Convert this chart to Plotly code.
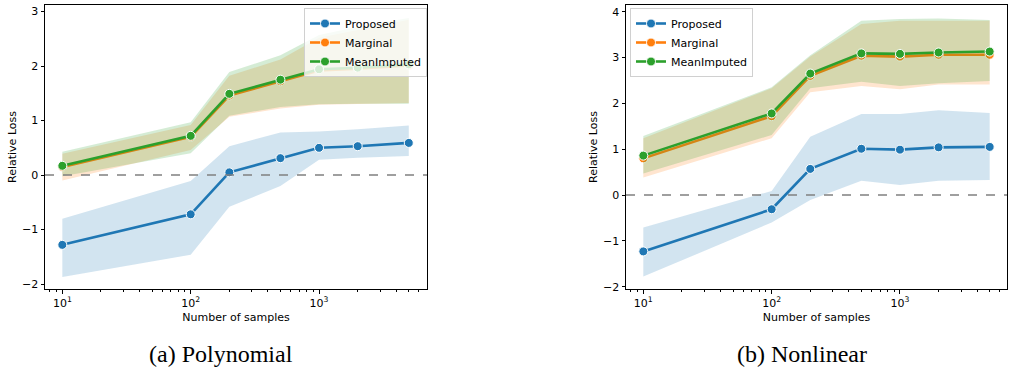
import plotly.graph_objects as go

samples = [10, 100, 200, 500, 1000, 2000, 5000]

# (a) Polynomial
poly_proposed = [-1.28, -0.72, 0.05, 0.31, 0.50, 0.53, 0.59]
poly_proposed_hi = [-0.80, -0.11, 0.53, 0.78, 0.80, 0.84, 0.91]
poly_proposed_lo = [-1.87, -1.46, -0.58, -0.20, 0.28, 0.32, 0.35]
poly_marginal = [0.15, 0.70, 1.46, 1.72, 1.92, 1.95, 2.01]
poly_marginal_hi = [0.39, 0.92, 1.82, 2.12, 2.52, 2.66, 2.85]
poly_marginal_lo = [-0.10, 0.46, 1.07, 1.22, 1.29, 1.31, 1.32]
poly_mean = [0.17, 0.72, 1.49, 1.75, 1.94, 1.97, 2.03]
poly_mean_hi = [0.43, 0.97, 1.89, 2.20, 2.57, 2.72, 2.88]
poly_mean_lo = [-0.02, 0.40, 1.09, 1.25, 1.30, 1.31, 1.31]

# (b) Nonlinear
nl_proposed = [-1.23, -0.31, 0.57, 1.01, 0.99, 1.04, 1.05]
nl_proposed_hi = [-0.71, 0.09, 1.27, 1.77, 1.77, 1.85, 1.79]
nl_proposed_lo = [-1.78, -0.60, -0.11, 0.31, 0.22, 0.31, 0.33]
nl_marginal = [0.80, 1.72, 2.60, 3.04, 3.02, 3.06, 3.06]
nl_marginal_hi = [1.24, 2.33, 3.02, 3.73, 3.80, 3.80, 3.80]
nl_marginal_lo = [0.38, 1.24, 2.24, 2.38, 2.31, 2.41, 2.41]
nl_mean = [0.86, 1.78, 2.65, 3.09, 3.08, 3.11, 3.13]
nl_mean_hi = [1.29, 2.35, 3.05, 3.80, 3.84, 3.85, 3.82]
nl_mean_lo = [0.47, 1.31, 2.33, 2.47, 2.38, 2.44, 2.49]

names = ["Proposed", "Marginal", "MeanImputed"]
colors = ["#1f77b4", "#ff7f0e", "#2ca02c"]
fills = ["rgba(31,119,180,0.2)", "rgba(255,127,14,0.2)", "rgba(44,160,44,0.2)"]

panels = [
    dict(xa="x", ya="y", legend="legend",
         series=[(poly_proposed, poly_proposed_lo, poly_proposed_hi),
                 (poly_marginal, poly_marginal_lo, poly_marginal_hi),
                 (poly_mean, poly_mean_lo, poly_mean_hi)]),
    dict(xa="x2", ya="y2", legend="legend2",
         series=[(nl_proposed, nl_proposed_lo, nl_proposed_hi),
                 (nl_marginal, nl_marginal_lo, nl_marginal_hi),
                 (nl_mean, nl_mean_lo, nl_mean_hi)]),
]

fig = go.Figure()
for p in panels:
    for (mean, lo, hi), name, c, f in zip(p["series"], names, colors, fills):
        fig.add_trace(go.Scatter(
            x=samples + samples[::-1], y=hi + lo[::-1], fill="toself",
            fillcolor=f, line=dict(width=0), mode="lines", hoverinfo="skip",
            showlegend=False, xaxis=p["xa"], yaxis=p["ya"]))
        fig.add_trace(go.Scatter(
            x=samples, y=mean, mode="lines+markers", name=name,
            line=dict(color=c, width=2.6),
            marker=dict(color=c, size=9, line=dict(color="white", width=1)),
            legend=p["legend"], xaxis=p["xa"], yaxis=p["ya"]))

W, H = 1010, 372
ydom = [1 - 289 / H, 1 - 5 / H]
font = dict(family="DejaVu Sans", size=11, color="black")
lfont = dict(family="DejaVu Sans", size=11, color="black")
minor_vals = [v * m for v in [1, 10, 100, 1000] for m in range(2, 10)]
common_x = dict(type="log", showline=True, linecolor="black", linewidth=1, mirror=True,
                automargin=False,
                ticks="outside", ticklen=3.5, tickwidth=1, tickcolor="black",
                tickvals=[10, 100, 1000],
                ticktext=["10<sup>1</sup>", "10<sup>2</sup>", "10<sup>3</sup>"],
                minor=dict(tickvals=minor_vals, ticks="outside", ticklen=2, tickwidth=0.7,
                           tickcolor="black", showgrid=False),
                showgrid=False, zeroline=False, tickfont=font,
                title=dict(text="Number of samples", font=font, standoff=4))
common_y = dict(showline=True, linecolor="black", linewidth=1, mirror=True,
                automargin=False,
                ticks="outside", ticklen=3.5, tickwidth=1, tickcolor="black",
                dtick=1, showgrid=False, zeroline=False, tickfont=font,
                title=dict(text="Relative Loss", font=font, standoff=3))

legend_common = dict(xref="paper", yref="paper", xanchor="left", yanchor="top", font=lfont,
                     bgcolor="rgba(255,255,255,0.8)", bordercolor="#d0d0d0", borderwidth=1,
                     tracegroupgap=0, itemwidth=30)

fig.update_layout(
    width=W, height=H, margin=dict(l=0, r=0, t=0, b=0),
    paper_bgcolor="white", plot_bgcolor="white",
    xaxis=dict(common_x, domain=[45 / W, 427 / W], range=[0.865, 3.841], anchor="y"),
    yaxis=dict(common_y, domain=ydom, range=[-2.09, 3.12], anchor="x"),
    xaxis2=dict(common_x, domain=[626 / W, 1007 / W], range=[0.865, 3.834], anchor="y2"),
    yaxis2=dict(common_y, domain=ydom, range=[-2.05, 4.146], anchor="x2"),
    legend=dict(legend_common, x=304 / W, y=1 - 8 / H),
    legend2=dict(legend_common, x=630 / W, y=1 - 8 / H),
    font=font,
)

for xa, ya in [("x", "y"), ("x2", "y2")]:
    fig.add_shape(type="line", xref=f"{xa} domain", yref=ya, x0=0, x1=1, y0=0, y1=0,
                  line=dict(color="gray", width=1.5, dash="dash"))

fig.add_annotation(text="(a) Polynomial", x=220.5 / W, y=1 - 354 / H, xref="paper", yref="paper",
                   xanchor="center", yanchor="middle",
                   showarrow=False, font=dict(family="Liberation Serif", size=24, color="black"))
fig.add_annotation(text="(b) Nonlinear", x=802 / W, y=1 - 354 / H, xref="paper", yref="paper",
                   xanchor="center", yanchor="middle",
                   showarrow=False, font=dict(family="Liberation Serif", size=24, color="black"))

fig.write_html("out.html", config={"displayModeBar": False},
               post_script="document.body.style.margin='0';")
